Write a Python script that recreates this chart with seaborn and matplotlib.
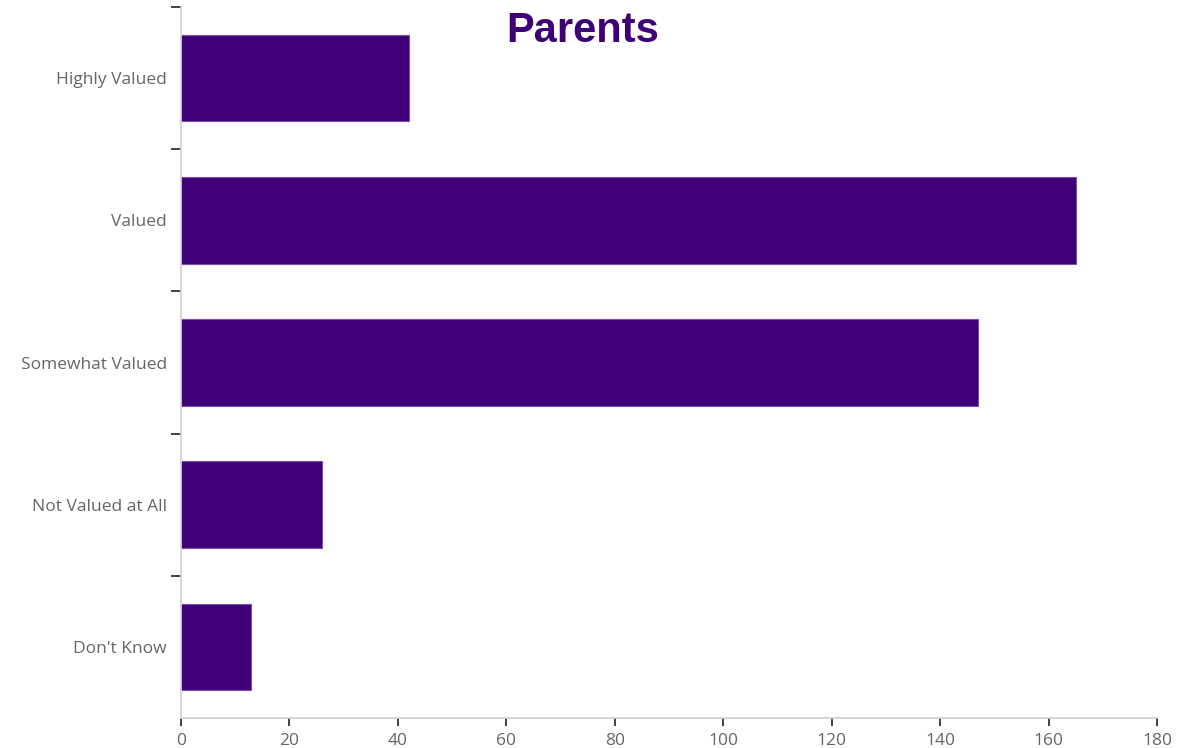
import matplotlib
matplotlib.use("Agg")
import matplotlib.pyplot as plt
import seaborn as sns
import pandas as pd
import numpy as np

categories = ["Highly Valued", "Valued", "Somewhat Valued", "Not Valued at All", "Don't Know"]
counts = [42, 165, 147, 26, 13]
x_ticks = [0, 20, 40, 60, 80, 100, 120, 140, 160, 180]

sns.set_style("white")
plt.rcParams['font.family'] = ['Open Sans', 'DejaVu Sans']

df = pd.DataFrame({"category": categories, "count": counts})

fig = plt.figure(figsize=(11.8, 7.48), dpi=100)
ax = fig.add_axes([181/1180, 1 - 718/748, (1157 - 181)/1180, (718 - 7)/748])

sns.barplot(data=df, y="category", x="count", orient="h", color="#3f0077",
            width=0.61, edgecolor="#7a4fb0", linewidth=0.8, saturation=1, ax=ax)

ax.set_xlim(0, 180)
ax.set_ylim(len(categories) - 0.5, -0.5)
ax.set_xticks(x_ticks)
ax.set_xticklabels([str(v) for v in x_ticks])
ax.set_xlabel("")
ax.set_ylabel("")

# category labels at minor ticks (centers), separators at major ticks
ax.set_yticks(np.arange(-0.5, len(categories) - 0.5, 1.0))
ax.set_yticklabels([])
ax.set_yticks(np.arange(len(categories)), minor=True)
ax.set_yticklabels(categories, minor=True)
ax.tick_params(axis="y", which="major", length=7, width=1.2, color="#222222", direction="out", left=True)
ax.tick_params(axis="y", which="minor", length=0, pad=10, labelsize=12.5, labelcolor="#666666")
ax.tick_params(axis="x", which="major", length=6, width=1.2, color="#222222", direction="out",
               bottom=True, labelsize=12.5, labelcolor="#666666", pad=5)

for side in ["top", "right"]:
    ax.spines[side].set_visible(False)
for side in ["left", "bottom"]:
    ax.spines[side].set_color("#d0d0d0")
    ax.spines[side].set_linewidth(1.2)

fig.text(583/1180, 1 - 31/748, "Parents", ha="center", va="center",
         fontsize=30, fontweight="bold", color="#3f0077",
         family=["Liberation Sans", "DejaVu Sans"])

fig.savefig("out.png", dpi=100)
